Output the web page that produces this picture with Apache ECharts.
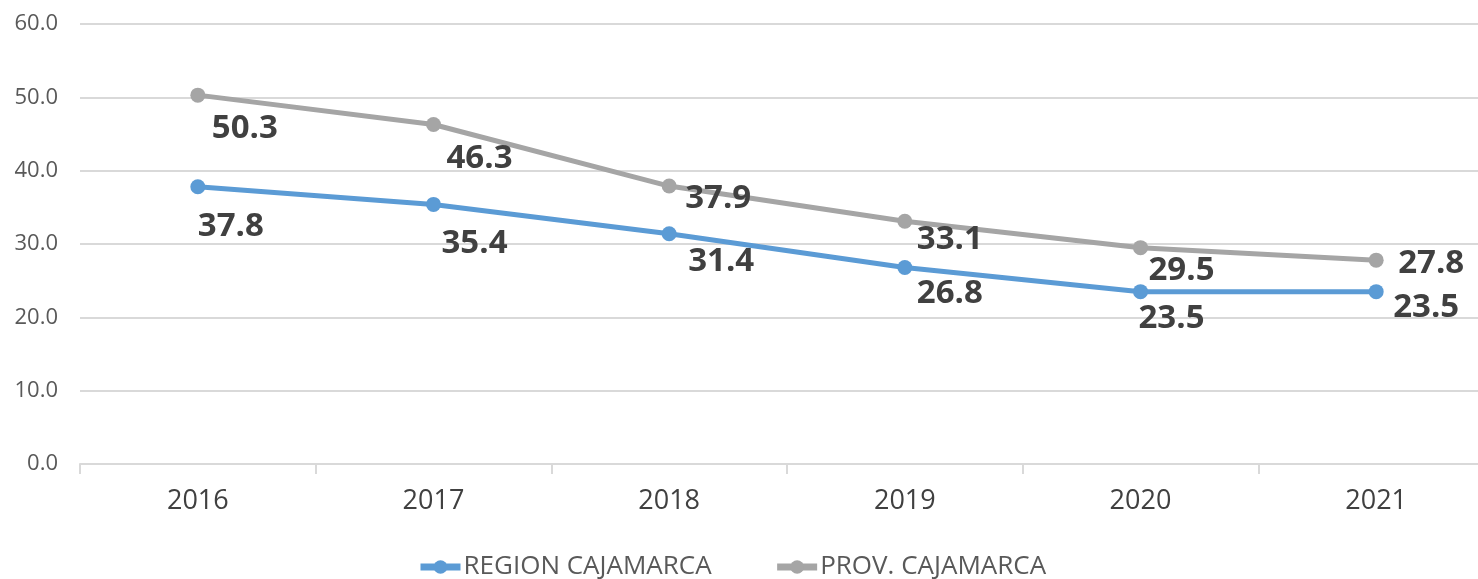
<!DOCTYPE html>
<html>
<head>
<meta charset="utf-8">
<script src="https://cdn.jsdelivr.net/npm/echarts@6/dist/echarts.min.js"></script>
<style>
  html, body { margin: 0; padding: 0; background: #fff; overflow: hidden; }
  /* the plot runs a little past the right edge of the picture in the original */
  #chart { width: 1500px; height: 579px; }
</style>
</head>
<body>
<div id="chart"></div>
<script>
  var years = ['2016', '2017', '2018', '2019', '2020', '2021'];
  var region = [37.8, 35.4, 31.4, 26.8, 23.5, 23.5];
  var prov = [50.3, 46.3, 37.9, 33.1, 29.5, 27.8];
  var yTicks = {min: 0, max: 60, interval: 10};

  // label nudges (px) copied from the spreadsheet layout
  var regionOffsets = [[33, 40], [41, 39], [52, 28], [45, 26], [31, 27], [50, 16]];
  var provOffsets = [[47, 33], [46, 34], [49, 13], [45, 18], [41, 23], [55, 3]];

  var labelFont = {
    show: true,
    position: 'inside',
    color: '#404040',
    fontFamily: 'Open Sans',
    fontWeight: 'bold',
    fontSize: 33,
    formatter: function (p) { return p.value.toFixed(1); }
  };

  function withLabels(values, offsets) {
    return values.map(function (v, i) {
      return {value: v, label: Object.assign({}, labelFont, {offset: offsets[i]})};
    });
  }

  var chart = echarts.init(document.getElementById('chart'));
  chart.setOption({
    animation: false,
    grid: {left: 80, top: 24, width: 1414, height: 440},
    legend: {
      bottom: -6,
      left: 412,
      itemWidth: 40,
      itemHeight: 17,
      itemGap: 62,
      lineStyle: {width: 7},
      textStyle: {color: '#595959', fontSize: 26, fontFamily: 'Open Sans', padding: [0, 0, 0, -2]},
      data: ['REGION CAJAMARCA', 'PROV. CAJAMARCA']
    },
    xAxis: {
      type: 'category',
      data: years,
      axisLine: {lineStyle: {color: '#d9d9d9', width: 2}},
      axisTick: {show: true, length: 10, lineStyle: {color: '#d9d9d9', width: 2}},
      axisLabel: {color: '#404040', fontSize: 27, fontFamily: 'Open Sans', margin: 24}
    },
    yAxis: {
      type: 'value',
      min: yTicks.min,
      max: yTicks.max,
      interval: yTicks.interval,
      axisLine: {show: false},
      axisTick: {show: false},
      splitLine: {lineStyle: {color: '#d9d9d9', width: 2}},
      axisLabel: {
        color: '#595959', fontSize: 22, fontFamily: 'Open Sans', margin: 22,
        formatter: function (v) { return v.toFixed(1); }
      }
    },
    series: [
      {
        name: 'REGION CAJAMARCA',
        type: 'line',
        data: withLabels(region, regionOffsets),
        symbol: 'circle',
        symbolSize: 15,
        lineStyle: {color: '#5b9bd5', width: 5},
        itemStyle: {color: '#5b9bd5'}
      },
      {
        name: 'PROV. CAJAMARCA',
        type: 'line',
        data: withLabels(prov, provOffsets),
        symbol: 'circle',
        symbolSize: 15,
        lineStyle: {color: '#a5a5a5', width: 5},
        itemStyle: {color: '#a5a5a5'}
      }
    ]
  });
</script>
</body>
</html>
